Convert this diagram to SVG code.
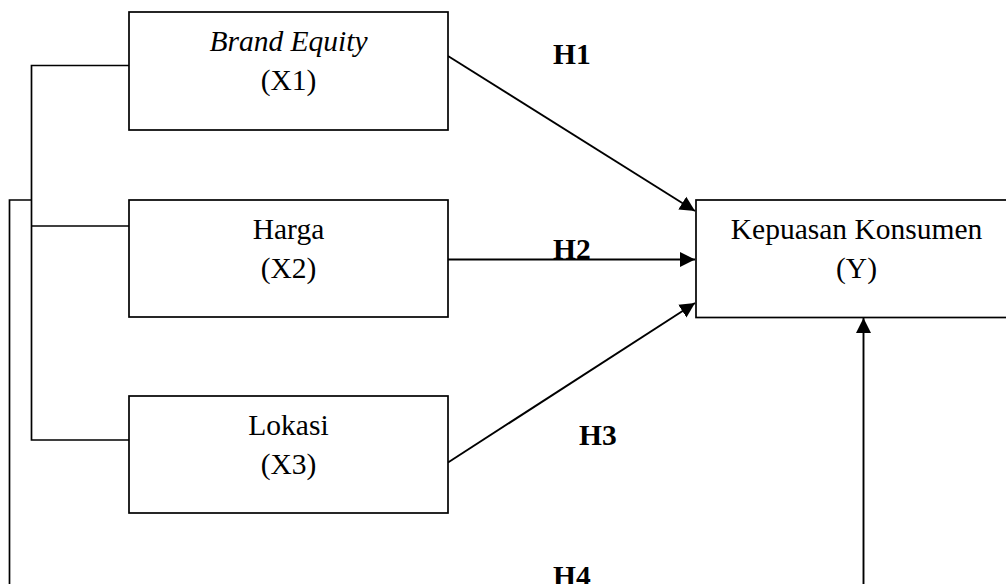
<svg xmlns="http://www.w3.org/2000/svg" width="1006" height="584" viewBox="0 0 1006 584">
<style>
.box{fill:#fff;stroke:#000;stroke-width:1.7}
.t{font-family:"Liberation Serif","Times New Roman",serif;font-size:29.5px;fill:#000;text-anchor:middle}
.h{font-family:"Liberation Serif","Times New Roman",serif;font-size:29.5px;font-weight:bold;fill:#000}
.ln{fill:none;stroke:#000;stroke-width:1.7}
.ar{fill:none;stroke:#000;stroke-width:1.9;marker-end:url(#ah)}
</style>
<defs>
<marker id="ah" markerUnits="userSpaceOnUse" markerWidth="16" markerHeight="16" refX="15" refY="8" orient="auto">
<path d="M0,0.5 L15,8 L0,15.5 Z" fill="#000"/>
</marker>
</defs>
<g id="connectors">
<polyline class="ln" points="129,65.5 31.5,65.5 31.5,440 129,440"/>
<line class="ln" x1="31.5" y1="226" x2="129" y2="226"/>
<polyline class="ln" points="31.5,200 9.5,200 9.5,590"/>
<line class="ar" x1="448" y1="56" x2="695" y2="211"/>
<line class="ar" x1="448" y1="259.5" x2="695" y2="259.5"/>
<line class="ar" x1="448" y1="462.5" x2="695" y2="303"/>
<line class="ar" x1="863.5" y1="590" x2="863.5" y2="318"/>
</g>
<g id="x1">
<rect class="box" x="129" y="12" width="319" height="118"/>
<text class="t" x="288.5" y="50.7" font-style="italic">Brand Equity</text>
<text class="t" x="288.5" y="90">(X1)</text>
</g>
<g id="x2">
<rect class="box" x="129" y="200" width="319" height="117"/>
<text class="t" x="288.5" y="238.5">Harga</text>
<text class="t" x="288.5" y="278">(X2)</text>
</g>
<g id="x3">
<rect class="box" x="129" y="396" width="319" height="117"/>
<text class="t" x="288.5" y="434.5">Lokasi</text>
<text class="t" x="288.5" y="474">(X3)</text>
</g>
<g id="y">
<rect class="box" x="696" y="200" width="320" height="117.5"/>
<text class="t" x="856.5" y="238.5">Kepuasan Konsumen</text>
<text class="t" x="856.5" y="278">(Y)</text>
</g>
<g id="labels">
<text class="h" x="553" y="64">H1</text>
<text class="h" x="553" y="259">H2</text>
<text class="h" x="579" y="445">H3</text>
<text class="h" x="553" y="586">H4</text>
</g>
</svg>
